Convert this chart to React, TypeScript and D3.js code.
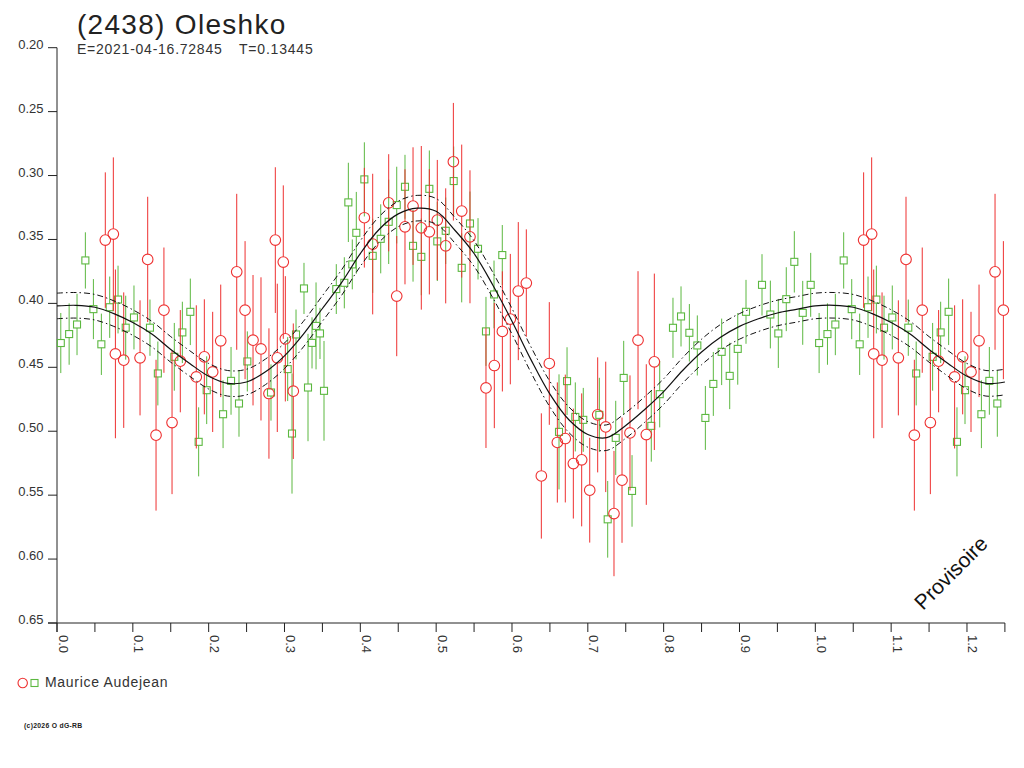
import React from 'react';
import * as d3 from 'd3';

// ---------- data ----------
const titleText = '(2438) Oleshko';
const epochText = 'E=2021-04-16.72845';
const periodText = 'T=0.13445';
const observerName = 'Maurice Audejean';
const watermarkText = 'Provisoire';
const copyrightText = '(c)2026 O dG-RB';

const phaseMax = 1.25;
const yTicks = [0.2, 0.25, 0.3, 0.35, 0.4, 0.45, 0.5, 0.55, 0.6, 0.65];
const xMajorTicks = [0, 0.1, 0.2, 0.3, 0.4, 0.5, 0.6, 0.7, 0.8, 0.9, 1.0, 1.1, 1.2];
const xMinorTicks = [0.05, 0.15, 0.25, 0.35, 0.45, 0.55, 0.65, 0.75, 0.85, 0.95, 1.05, 1.15, 1.25];

const curvePhase = [0, 0.025, 0.05, 0.075, 0.1, 0.125, 0.15, 0.175, 0.2, 0.225, 0.25, 0.275, 0.3, 0.325, 0.35, 0.375, 0.4, 0.425, 0.45, 0.475, 0.5, 0.525, 0.55, 0.575, 0.6, 0.625, 0.65, 0.675, 0.7, 0.725, 0.75, 0.775, 0.8, 0.825, 0.85, 0.875, 0.9, 0.925, 0.95, 0.975];
const curveMag = [0.402, 0.4015, 0.403, 0.408, 0.415, 0.424, 0.436, 0.447, 0.457, 0.4625, 0.4615, 0.4535, 0.441, 0.424, 0.404, 0.384, 0.361, 0.342, 0.330, 0.3255, 0.328, 0.343, 0.361, 0.386, 0.414, 0.444, 0.471, 0.491, 0.5025, 0.505, 0.4955, 0.483, 0.469, 0.4525, 0.438, 0.4265, 0.418, 0.412, 0.4075, 0.4047];
const bandHalfWidth = 0.01;

const redPhase = [0.0637, 0.0743, 0.077, 0.088, 0.1095, 0.1196, 0.1306, 0.141, 0.1517, 0.1626, 0.1837, 0.1943, 0.2053, 0.2159, 0.237, 0.248, 0.2585, 0.269, 0.2795, 0.2879, 0.2905, 0.2984, 0.3011, 0.3116, 0.4053, 0.4163, 0.4374, 0.448, 0.4589, 0.4695, 0.4804, 0.491, 0.5015, 0.5126, 0.5227, 0.5337, 0.5446, 0.5657, 0.5767, 0.5873, 0.5978, 0.6083, 0.6189, 0.6387, 0.6492, 0.6598, 0.6703, 0.6809, 0.6919, 0.7025, 0.713, 0.7236, 0.7345, 0.7451, 0.7556, 0.7662, 0.7771, 0.7877];
const redMag = [0.3505, 0.3458, 0.4395, 0.4444, 0.4426, 0.3656, 0.5031, 0.4053, 0.4932, 0.4452, 0.4575, 0.4418, 0.4536, 0.4293, 0.3753, 0.4053, 0.4288, 0.4356, 0.4705, 0.3505, 0.4426, 0.3677, 0.4277, 0.4687, 0.333, 0.3536, 0.3213, 0.3943, 0.3401, 0.3239, 0.3409, 0.344, 0.3348, 0.355, 0.2892, 0.3278, 0.3479, 0.4661, 0.4486, 0.4219, 0.4123, 0.3904, 0.3841, 0.535, 0.447, 0.5088, 0.5057, 0.5253, 0.5224, 0.5461, 0.4872, 0.4966, 0.5644, 0.5383, 0.5013, 0.4288, 0.5026, 0.4457];
const redErr = [0.053, 0.06, 0.066, 0.053, 0.045, 0.049, 0.059, 0.049, 0.056, 0.04, 0.056, 0.045, 0.047, 0.044, 0.061, 0.054, 0.051, 0.056, 0.051, 0.057, 0.058, 0.06, 0.049, 0.053, 0.039, 0.055, 0.038, 0.047, 0.045, 0.046, 0.064, 0.049, 0.047, 0.045, 0.046, 0.052, 0.052, 0.047, 0.049, 0.047, 0.051, 0.054, 0.042, 0.049, 0.048, 0.047, 0.05, 0.043, 0.052, 0.041, 0.045, 0.051, 0.049, 0.049, 0.045, 0.054, 0.055, 0.069];

const greenPhase = [0.005, 0.016, 0.0264, 0.0374, 0.048, 0.0585, 0.0695, 0.0805, 0.0906, 0.1015, 0.1226, 0.133, 0.1547, 0.1653, 0.1758, 0.1868, 0.1974, 0.219, 0.2295, 0.24, 0.251, 0.2822, 0.3042, 0.3099, 0.3152, 0.3257, 0.331, 0.3363, 0.3416, 0.3468, 0.3521, 0.3683, 0.3789, 0.3842, 0.3894, 0.3947, 0.4053, 0.4163, 0.4269, 0.4374, 0.448, 0.4589, 0.4695, 0.4804, 0.491, 0.5015, 0.5126, 0.5231, 0.5337, 0.5446, 0.5552, 0.5657, 0.5763, 0.5872, 0.662, 0.6726, 0.6835, 0.694, 0.7152, 0.7262, 0.7368, 0.7473, 0.7583, 0.7837, 0.7948, 0.8123, 0.8229, 0.8339, 0.8444, 0.855, 0.8655, 0.8765, 0.8871, 0.8977, 0.9086, 0.9297, 0.9407, 0.9512, 0.9617, 0.9723, 0.9834, 0.9939];
const greenMag = [0.431, 0.424, 0.4165, 0.3664, 0.4045, 0.432, 0.403, 0.397, 0.419, 0.411, 0.419, 0.4548, 0.4418, 0.4227, 0.4066, 0.5083, 0.4679, 0.4867, 0.4606, 0.4783, 0.4454, 0.4697, 0.4514, 0.5018, 0.4243, 0.3883, 0.4658, 0.4309, 0.4176, 0.4235, 0.4684, 0.3888, 0.3839, 0.321, 0.3695, 0.3448, 0.303, 0.3628, 0.3495, 0.3362, 0.3231, 0.3088, 0.355, 0.3636, 0.3104, 0.3515, 0.3432, 0.3043, 0.3722, 0.3375, 0.3573, 0.4219, 0.393, 0.3622, 0.5005, 0.4608, 0.4888, 0.4911, 0.4872, 0.5689, 0.5052, 0.4583, 0.5467, 0.4958, 0.471, 0.4191, 0.4102, 0.423, 0.4329, 0.4896, 0.463, 0.4379, 0.4567, 0.4356, 0.4066, 0.3855, 0.4087, 0.4235, 0.3967, 0.3675, 0.4074, 0.3855];
const greenErr = [0.0235, 0.024, 0.024, 0.022, 0.0235, 0.024, 0.024, 0.0265, 0.025, 0.025, 0.022, 0.025, 0.0265, 0.024, 0.026, 0.027, 0.0265, 0.0265, 0.0265, 0.026, 0.0235, 0.022, 0.025, 0.047, 0.0195, 0.02, 0.042, 0.02, 0.034, 0.02, 0.039, 0.0195, 0.02, 0.031, 0.0195, 0.032, 0.029, 0.029, 0.027, 0.033, 0.03, 0.025, 0.028, 0.03, 0.03, 0.031, 0.026, 0.027, 0.027, 0.025, 0.024, 0.027, 0.0265, 0.0235, 0.045, 0.0265, 0.027, 0.025, 0.029, 0.03, 0.029, 0.029, 0.028, 0.028, 0.026, 0.0235, 0.0235, 0.0225, 0.0235, 0.025, 0.025, 0.026, 0.026, 0.028, 0.025, 0.024, 0.0265, 0.027, 0.025, 0.024, 0.025, 0.025];

// ---------- helpers ----------
type Pt = { p: number; m: number; e: number };
function fold(ph: number[], mg: number[], er: number[]): Pt[] {
  const out: Pt[] = [];
  ph.forEach((p, i) => {
    out.push({ p, m: mg[i], e: er[i] });
    if (p + 1 <= phaseMax) out.push({ p: p + 1, m: mg[i], e: er[i] });
  });
  return out;
}

const RED = '#ee3030';
const GREEN = '#5cb840';
const FONT = "'Liberation Sans', Arial, Helvetica, sans-serif";

export default function App() {
  const x = d3.scaleLinear().domain([0, phaseMax]).range([57, 1004.9]);
  const y = d3.scaleLinear().domain([0.2, 0.65]).range([47.7, 623]);

  const curvePts: [number, number][] = [];
  curvePhase.forEach((p, i) => {
    curvePts.push([p, curveMag[i]]);
  });
  curvePhase.forEach((p, i) => {
    if (p + 1 <= phaseMax) curvePts.push([p + 1, curveMag[i]]);
  });
  curvePts.sort((a, b) => a[0] - b[0]);

  const mkLine = (off: number) =>
    d3
      .line<[number, number]>()
      .x((d) => x(d[0]))
      .y((d) => y(d[1] + off))
      .curve(d3.curveCatmullRom.alpha(0.5))(curvePts) || '';

  const reds = fold(redPhase, redMag, redErr);
  const greens = fold(greenPhase, greenMag, greenErr);
  const fmtY = d3.format('.2f');
  const fmtX = d3.format('.1f');
  const R = 5.3;
  const S = 3.5;

  return (
    <svg width={1024} height={768} style={{ position: 'absolute', left: 0, top: 0, background: '#fff' }} fontFamily={FONT}>
      <rect x={0} y={0} width={1024} height={768} fill="#fff" />
      {/* title */}
      <text x={77} y={33.5} fontSize={28} letterSpacing={1.3} fill="#222">{titleText}</text>
      <text x={77} y={54} fontSize={14} letterSpacing={0.75} fill="#333">{epochText}</text>
      <text x={239} y={54} fontSize={14} letterSpacing={0.8} fill="#333">{periodText}</text>

      {/* axes */}
      <line x1={x(0)} x2={x(0)} y1={y(0.2)} y2={632} stroke="#222" strokeWidth={1} />
      <line x1={48} x2={x(phaseMax)} y1={y(0.65)} y2={y(0.65)} stroke="#222" strokeWidth={1} />
      {yTicks.map((t) => (
        <g key={'y' + t}>
          <line x1={48} x2={x(0)} y1={y(t)} y2={y(t)} stroke="#222" strokeWidth={1} />
          <text x={43.5} y={y(t) + 1} fontSize={13} textAnchor="end" fill="#333">{fmtY(t)}</text>
        </g>
      ))}
      {[...xMajorTicks, ...xMinorTicks].map((t) => (
        <line key={'xt' + t} x1={x(t)} x2={x(t)} y1={y(0.65)} y2={632} stroke="#222" strokeWidth={1} />
      ))}
      {xMajorTicks.map((t) => (
        <text key={'xl' + t} transform={`translate(${x(t) + 1.5},635) rotate(90)`} fontSize={13} fill="#333">{fmtX(t)}</text>
      ))}

      {/* data: error bars and markers */}
      {greens.map((d, i) => (
        <g key={'g' + i} stroke={GREEN} strokeWidth={1} fill="none">
          <line x1={x(d.p)} x2={x(d.p)} y1={y(d.m - d.e)} y2={y(d.m) - S} />
          <line x1={x(d.p)} x2={x(d.p)} y1={y(d.m) + S} y2={y(d.m + d.e)} />
          <rect x={x(d.p) - S} y={y(d.m) - S} width={2 * S} height={2 * S} strokeWidth={1.1} />
        </g>
      ))}
      {reds.map((d, i) => (
        <g key={'r' + i} stroke={RED} strokeWidth={1} fill="none">
          <line x1={x(d.p)} x2={x(d.p)} y1={y(d.m - d.e)} y2={y(d.m) - R} />
          <line x1={x(d.p)} x2={x(d.p)} y1={y(d.m) + R} y2={y(d.m + d.e)} />
          <circle cx={x(d.p)} cy={y(d.m)} r={R} strokeWidth={1.1} />
        </g>
      ))}

      {/* fitted curve */}
      <path d={mkLine(0)} fill="none" stroke="#111" strokeWidth={1.2} />
      <path d={mkLine(-bandHalfWidth)} fill="none" stroke="#111" strokeWidth={1} strokeDasharray="6,3,1.5,3" />
      <path d={mkLine(bandHalfWidth)} fill="none" stroke="#111" strokeWidth={1} strokeDasharray="6,3,1.5,3" />

      {/* watermark */}
      <text transform="translate(923,611) rotate(-45)" fontSize={21} fill="#111">{watermarkText}</text>

      {/* legend */}
      <circle cx={22.7} cy={683} r={4.7} fill="none" stroke={RED} strokeWidth={1.1} />
      <rect x={31} y={679.5} width={7} height={7} fill="none" stroke={GREEN} strokeWidth={1.1} />
      <text x={45} y={687} fontSize={14} letterSpacing={0.7} fill="#333">{observerName}</text>

      <text x={24} y={727.5} fontSize={6.8} fontWeight="bold" letterSpacing={0.3} fill="#222">{copyrightText}</text>
    </svg>
  );
}
